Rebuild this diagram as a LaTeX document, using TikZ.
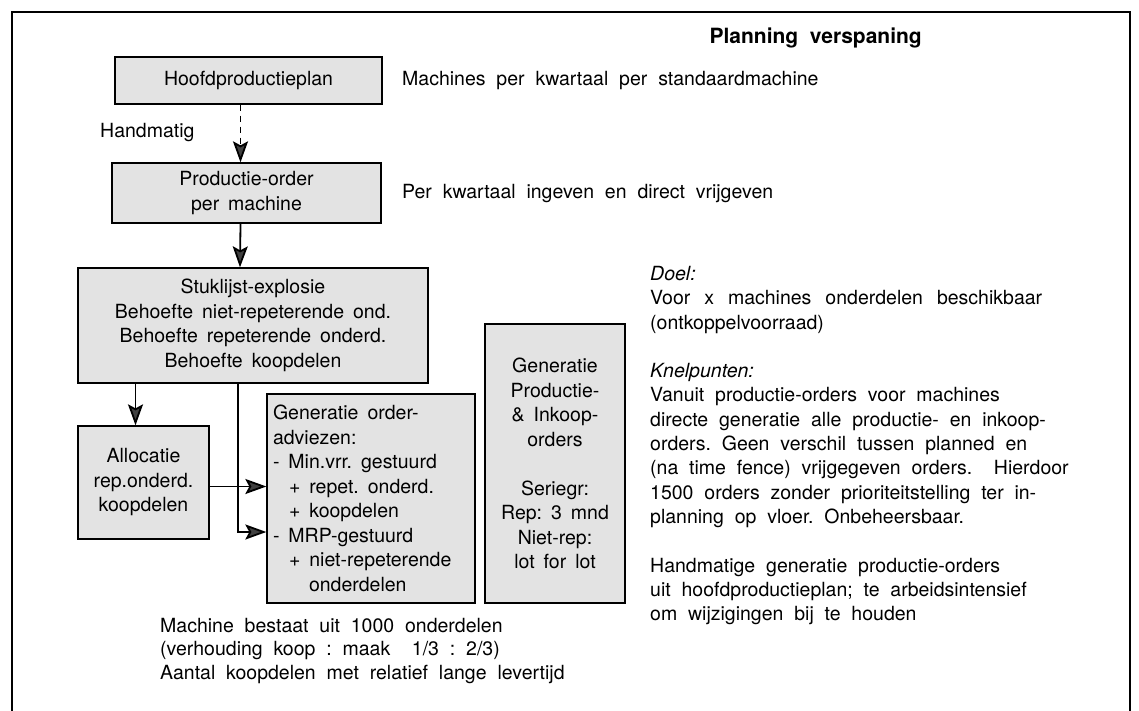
\documentclass[tikz,border=0pt]{standalone}
\usepackage{fontspec}
\setmainfont{TeX Gyre Heros}
\usetikzlibrary{arrows.meta,calc}

\newcommand{\wsp}{\hspace{9pt}}

\tikzset{
  pbox/.style={draw, line width=1.3pt, fill=gray!22, inner sep=0pt, align=center,
               font=\fontsize{19.5}{24.5}\selectfont},
  flow/.style={line width=1.8pt, -{Stealth[length=21pt,width=15pt,inset=4pt,fill=black!75]}},
  dflow/.style={flow, dash pattern=on 6pt off 5pt},
  note/.style={inner sep=0pt, align=left, font=\fontsize{19.5}{24.3}\selectfont},
  label/.style={anchor=west, inner sep=0pt, font=\fontsize{19.5}{24}\selectfont},
}

\begin{document}
\begin{tikzpicture}[x=1pt,y=-1pt]
\useasboundingbox (0,0) rectangle (1139,711);

% open frame
\draw[line width=1.2pt] (12,711) -- (12,12) -- (1130,12) -- (1130,711);

% title
\node[anchor=east, inner sep=0pt, font=\fontsize{21}{25}\selectfont\bfseries] (title) at (922,38) {Planning\ \ verspaning};

% boxes
\node[pbox, minimum width=267pt, minimum height=47pt] (hpp) at (248.5,80.5) {Hoofdproductieplan};
\node[pbox, minimum width=269pt, minimum height=60pt] (po) at (246.5,193) {Productie-order\\per\wsp machine};
\node[pbox, minimum width=350pt, minimum height=115pt] (stuk) at (253,325.5)
  {Stuklijst-explosie\\Behoefte\wsp niet-repeterende\wsp ond.\\Behoefte\wsp repeterende\wsp onderd.\\Behoefte\wsp koopdelen};
\node[pbox, minimum width=131pt, minimum height=113pt] (alloc) at (143.5,482.5)
  {Allocatie\\rep.onderd.\\koopdelen};
\node[pbox, minimum width=208pt, minimum height=209pt, text width=196pt, align=left] (gen) at (371,498.5)
  {Generatie\wsp order-\\adviezen:\\-\wsp Min.vrr.\wsp gestuurd\\\hspace*{16pt}+\wsp repet.\wsp onderd.\\\hspace*{16pt}+\wsp koopdelen\\-\wsp MRP-gestuurd\\\hspace*{16pt}+\wsp niet-repeterende\\\hspace*{36pt}onderdelen};
\node[pbox, minimum width=140pt, minimum height=279pt] (gpi) at (555,463.5)
  {Generatie\\Productie-\\\&\wsp Inkoop-\\orders\\[24.5pt]Seriegr:\\Rep:\wsp 3\wsp mnd\\Niet-rep:\\lot\wsp for\wsp lot};

% labels beside the chain
\node[label] (hand) at (100,133) {Handmatig};
\node[label] (l1) at (402,81) {Machines\ \ per\ \ kwartaal\ \ per\ \ standaardmachine};
\node[label] (l2) at (402,194) {Per\ \ kwartaal\ \ ingeven\ \ en\ \ direct\ \ vrijgeven};

% notes
\node[note, anchor=north west] (doel) at (650,266)
  {\itshape Doel:\\
   Voor\hspace{14pt}x\hspace{14pt}machines\hspace{14pt}onderdelen\hspace{14pt}beschikbaar\\
   (ontkoppelvoorraad)\\[24.3pt]
   \itshape Knelpunten:\\
   Vanuit\ \ productie-orders\ \ voor\ \ machines\\
   directe\ \ generatie\ \ alle\ \ productie-\ \ en\ \ inkoop-\\
   orders.\ \ Geen\ \ verschil\ \ tussen\ \ planned\ \ en\\
   (na\ \ time\ \ fence)\ \ vrijgegeven\ \ orders.\ \ \ \ Hierdoor\\
   1500\ \ orders\ \ zonder\ \ prioriteitstelling\ \ ter\ \ in-\\
   planning\ \ op\ \ vloer.\ \ Onbeheersbaar.\\[24.3pt]
   Handmatige\ \ generatie\ \ productie-orders\\
   uit\ \ hoofdproductieplan;\ \ te\ \ arbeidsintensief\\
   om\ \ wijzigingen\ \ bij\ \ te\ \ houden};
\node[note, anchor=north west, font=\fontsize{19.5}{23.5}\selectfont] (mach) at (160,618)
  {Machine\ \ bestaat\ \ uit\ \ 1000\ \ onderdelen\\
   (verhouding\ \ koop\ \ :\ \ maak\ \ \ \ 1/3\ \ :\ \ 2/3)\\
   Aantal\ \ koopdelen\ \ met\ \ relatief\ \ lange\ \ levertijd};

% connectors
\draw[dflow] ([xshift=-8pt]hpp.south) -- ([xshift=-6pt]po.north);
\draw[flow] ([xshift=-6pt]po.south) -- ([xshift=-13pt]stuk.north);
\draw[flow] (stuk.south -| alloc.north) ++(-8,0) coordinate (sa) -- (sa |- alloc.north);
\draw[flow] ([yshift=-4pt]alloc.east) -- ([yshift=-4pt]alloc.east -| gen.west);
\coordinate (split) at ([xshift=-15pt]stuk.south);
\coordinate (bend) at (split |- 0,532);
\draw[flow] (split) -- (bend) -- (bend -| gen.west);
\end{tikzpicture}
\end{document}
